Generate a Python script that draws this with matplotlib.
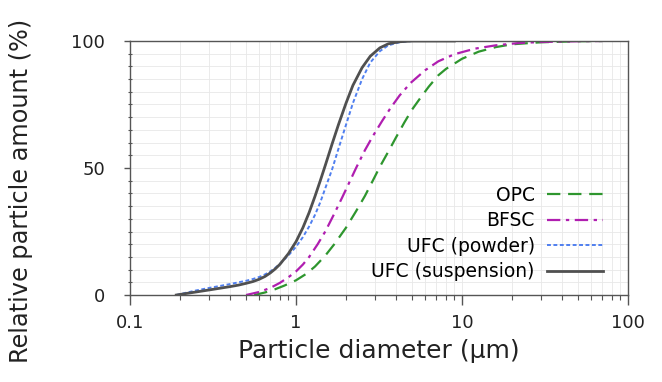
import numpy as np
import matplotlib
matplotlib.use("Agg")
import matplotlib.pyplot as plt
from matplotlib.ticker import FixedLocator, LogLocator, NullFormatter, MultipleLocator

# Cumulative particle size distributions
# (particle diameter in µm, relative amount in %)
opc_d = [0.56, 0.65, 0.75, 0.85, 1.00, 1.15, 1.30, 1.50, 1.70, 2.00, 2.30, 2.60,
         2.90, 3.20, 3.60, 4.00, 4.50, 5.00, 5.60, 6.30, 7.20, 8.00, 10.0, 12.6,
         16.0, 20.0, 30.0, 50.0, 70.0]
opc_y = [0, 1.0, 2.3, 3.7, 5.8, 8.3, 11.2, 15.5, 20.0, 26.5, 33.0, 39.0,
         45.0, 50.5, 56.5, 62.0, 68.0, 73.0, 77.5, 82.0, 86.5, 89.0, 93.0, 95.8,
         97.6, 98.7, 99.5, 99.9, 100]

bfsc_d = [0.50, 0.60, 0.70, 0.80, 0.90, 1.00, 1.10, 1.20, 1.35, 1.50, 1.70, 1.90,
          2.10, 2.30, 2.60, 2.90, 3.30, 3.70, 4.20, 4.90, 6.00, 7.20, 9.00, 12.0,
          16.0, 22.0, 30.0, 50.0, 70.0]
bfsc_y = [0, 1.2, 2.8, 4.8, 7.0, 9.3, 12.0, 15.0, 20.0, 25.0, 32.0, 38.5,
          44.5, 50.0, 57.0, 62.5, 68.5, 73.5, 78.5, 83.5, 88.5, 92.0, 94.8, 97.0,
          98.3, 99.2, 99.6, 99.9, 100]

ufc_pow_d = [0.19, 0.25, 0.30, 0.35, 0.40, 0.45, 0.50, 0.55, 0.60, 0.65, 0.70, 0.75,
             0.80, 0.90, 1.00, 1.10, 1.20, 1.30, 1.40, 1.50, 1.65, 1.80, 2.00, 2.20,
             2.50, 2.80, 3.20, 3.60, 4.20, 5.00, 9.00]
ufc_pow_y = [0, 1.8, 2.8, 3.6, 4.3, 5.0, 5.6, 6.3, 7.1, 8.1, 9.3, 10.7,
             12.3, 15.6, 19.0, 22.8, 27.0, 31.5, 36.5, 42.0, 49.5, 57.5, 67.0, 75.5,
             85.0, 91.5, 96.0, 98.3, 99.5, 100, 100]

ufc_sus_d = [0.19, 0.25, 0.30, 0.35, 0.40, 0.45, 0.50, 0.55, 0.60, 0.65, 0.70, 0.75,
             0.80, 0.90, 1.00, 1.10, 1.20, 1.30, 1.40, 1.50, 1.65, 1.80, 2.00, 2.20,
             2.50, 2.80, 3.20, 3.60, 4.20, 5.00, 9.00]
ufc_sus_y = [0, 1.2, 2.0, 2.7, 3.3, 3.9, 4.6, 5.3, 6.2, 7.3, 8.7, 10.3,
             12.1, 16.3, 21.0, 26.5, 32.5, 38.8, 45.0, 51.0, 59.5, 67.0, 75.5, 82.5,
             89.5, 94.0, 97.3, 98.9, 99.7, 100, 100]

plt.rcParams["font.family"] = ["DejaVu Sans"]

fig = plt.figure(figsize=(6.62, 3.82), dpi=100)
ax = fig.add_axes([0.1964, 0.2277, 0.7523, 0.665])

ax.plot(opc_d, opc_y, color="#2e962e", lw=1.6, dashes=(6, 3.5), label="OPC")
ax.plot(bfsc_d, bfsc_y, color="#b01eb0", lw=1.6, dashes=(6, 2.5, 1.5, 2.5), label="BFSC")
ax.plot(ufc_pow_d, ufc_pow_y, color="#4f7ff0", lw=1.4, dashes=(2, 1.3), label="UFC (powder)")
ax.plot(ufc_sus_d, ufc_sus_y, color="#505050", lw=2.0, label="UFC (suspension)")

ax.set_xscale("log")
ax.set_xlim(0.1, 100)
ax.set_ylim(0, 100)
ax.xaxis.set_major_locator(FixedLocator([0.1, 1, 10, 100]))
ax.set_xticklabels(["0.1", "1", "10", "100"])
ax.xaxis.set_minor_locator(LogLocator(base=10, subs=np.arange(2, 10)))
ax.xaxis.set_minor_formatter(NullFormatter())
ax.yaxis.set_major_locator(FixedLocator([0, 50, 100]))
ax.yaxis.set_minor_locator(MultipleLocator(5))

ax.grid(True, which="both", color="#e8e8e8", lw=0.6)
ax.set_axisbelow(True)

for s in ax.spines.values():
    s.set_color("#555555")
    s.set_linewidth(1.0)

ax.tick_params(axis="x", which="major", direction="out", length=7, width=1, color="#555555",
               labelsize=13, pad=7, labelcolor="#222222")
ax.tick_params(axis="x", which="minor", direction="out", length=3.5, width=0.8, color="#555555")
ax.tick_params(axis="y", which="major", direction="out", length=4, width=1, color="#555555",
               labelsize=13, pad=14, labelcolor="#222222")
ax.tick_params(axis="y", which="minor", direction="inout", length=3, width=0.8, color="#555555")

ax.set_xlabel("Particle diameter (µm)", fontsize=18, color="#222222", labelpad=5)
ax.set_ylabel("Relative particle amount (%)", fontsize=17.3, color="#222222")
ax.yaxis.set_label_coords(-0.195, 0.41)

ax.legend(loc="lower right", bbox_to_anchor=(0.965, 0.024), borderaxespad=0,
          frameon=False, markerfirst=False, fontsize=13.5,
          handlelength=3.0, labelspacing=0.35, handletextpad=0.65)

fig.savefig("out.png", dpi=100)
